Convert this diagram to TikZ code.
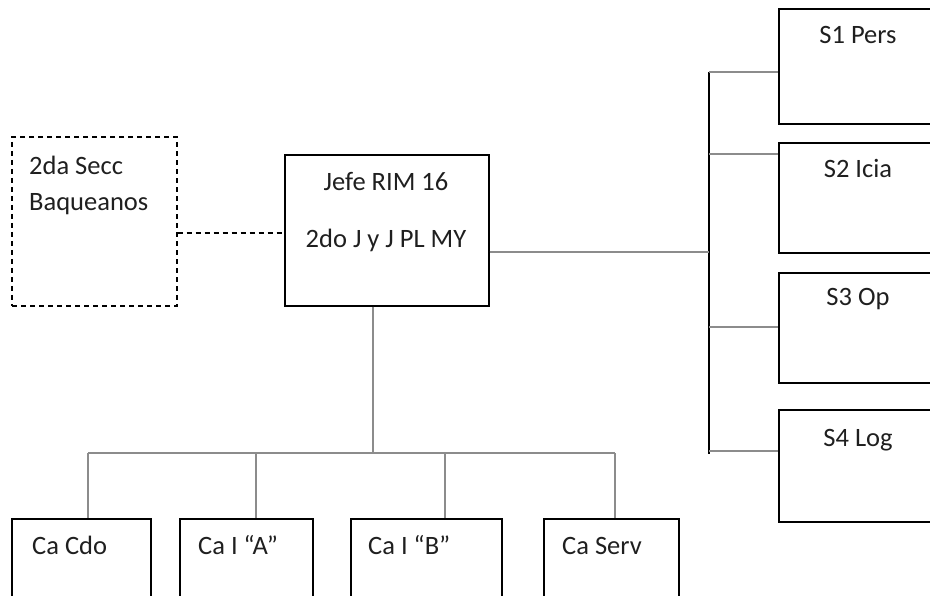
\documentclass[tikz,border=0pt]{standalone}
\usepackage{fontspec}
\setmainfont{Carlito}
\usetikzlibrary{positioning}

\begin{document}
\begin{tikzpicture}[x=1pt,y=-1pt,
    box/.style={draw=black, line width=1.4pt, inner sep=0pt},
    link/.style={draw=black!45, line width=1.1pt},
    bus/.style={draw=black, line width=1.4pt},
    lbl/.style={font=\fontsize{26.5}{30}\selectfont, text=black!88, inner sep=0pt}]
    \useasboundingbox (0,0) rectangle (930,596);
    \clip (0,0) rectangle (930,596);
    % boxes
    \node[box, dashed, dash pattern=on 5pt off 4pt, minimum width=165pt, minimum height=169pt] (secc) at (94.5,221.5) {};
    \node[box, minimum width=204pt, minimum height=151pt] (jefe) at (387,230.5) {};
    \node[box, minimum width=158pt, minimum height=115pt] (s1) at (858,66.5) {};
    \node[box, minimum width=158pt, minimum height=110pt] (s2) at (858,198) {};
    \node[box, minimum width=158pt, minimum height=110pt] (s3) at (858,328) {};
    \node[box, minimum width=158pt, minimum height=112pt] (s4) at (858,466) {};
    \node[box, minimum width=139pt, minimum height=150pt] (ca1) at (81.5,594) {};
    \node[box, minimum width=133pt, minimum height=150pt] (ca2) at (246.5,594) {};
    \node[box, minimum width=151pt, minimum height=150pt] (ca3) at (426.5,594) {};
    \node[box, minimum width=135pt, minimum height=150pt] (ca4) at (611.5,594) {};
    % texts
    \node[lbl, anchor=base west] (seccA) at (29,175) {2da Secc};
    \node[lbl, anchor=base west] (seccB) at (29,211) {Baqueanos};
    \node[lbl, anchor=base] (jefeA) at (386,191) {Jefe RIM 16};
    \node[lbl, anchor=base] (jefeB) at (386,248) {2do J y J PL MY};
    \node[lbl, anchor=base] (s1t) at (858,44) {S1 Pers};
    \node[lbl, anchor=base] (s2t) at (858,178) {S2 Icia};
    \node[lbl, anchor=base] (s3t) at (858,306) {S3 Op};
    \node[lbl, anchor=base] (s4t) at (858,446) {S4 Log};
    \node[lbl, anchor=base west] (ca1t) at (32,554) {Ca Cdo};
    \node[lbl, anchor=base west] (ca2t) at (198,554) {Ca I “A”};
    \node[lbl, anchor=base west] (ca3t) at (368,554) {Ca I “B”};
    \node[lbl, anchor=base west] (ca4t) at (562,554) {Ca Serv};
    % staff
    \coordinate (rtop) at (709,72);
    \coordinate (rbot) at (709,454);
    \coordinate (je) at ([yshift=-21.5pt]jefe.east);
    \draw[bus] (rtop) -- (rbot);
    \draw[link] (je) -- (je -| rtop);
    \foreach \y/\n in {72/1,154/2,327/3,451/4} {
      \coordinate (b\n) at (709,\y);
      \draw[link] (b\n) -- (b\n -| s\n.west);
    }
    % companies
    \draw[bus, line width=1.2pt, dash pattern=on 5pt off 4pt] (secc.east |- 0,233) -- (jefe.west |- 0,233);
    \coordinate (jb) at (373,453);
    \draw[link] (jb |- jefe.south) -- (jb);
    \foreach \x/\n in {88/1,256/2,445/3,615/4} {
      \coordinate (c\n) at (\x,453);
      \draw[link] (c\n) -- (c\n |- ca\n.north);
    }
    \draw[link] (c1) -- (c4);
\end{tikzpicture}
\end{document}
